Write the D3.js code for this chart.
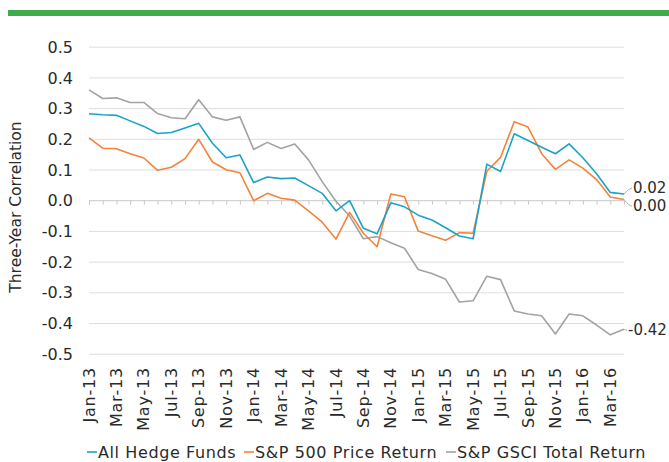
<!DOCTYPE html>
<html>
<head>
<meta charset="utf-8">
<script src="https://cdn.jsdelivr.net/npm/d3@7"></script>
<style>
  body { margin: 0; background: #fff; }
  svg text { font-family: "DejaVu Sans", "Noto Sans", sans-serif; fill: #2a2a2a; }
</style>
</head>
<body>
<svg id="chart_svg"></svg>
<script>
const months = [
  "Jan-13","Feb-13","Mar-13","Apr-13","May-13","Jun-13","Jul-13","Aug-13","Sep-13","Oct-13","Nov-13","Dec-13",
  "Jan-14","Feb-14","Mar-14","Apr-14","May-14","Jun-14","Jul-14","Aug-14","Sep-14","Oct-14","Nov-14","Dec-14",
  "Jan-15","Feb-15","Mar-15","Apr-15","May-15","Jun-15","Jul-15","Aug-15","Sep-15","Oct-15","Nov-15","Dec-15",
  "Jan-16","Feb-16","Mar-16","Apr-16"
];
const hedgeFunds = [
  0.283, 0.280, 0.278, 0.260, 0.242, 0.219, 0.222, 0.237, 0.252, 0.187, 0.140, 0.149,
  0.059, 0.077, 0.072, 0.074, 0.049, 0.024, -0.033, 0.000, -0.090, -0.108, -0.007, -0.020,
  -0.047, -0.063, -0.088, -0.115, -0.124, 0.119, 0.095, 0.218, 0.196, 0.174, 0.153, 0.185,
  0.140, 0.088, 0.027, 0.022
];
const sp500 = [
  0.205, 0.171, 0.169, 0.153, 0.139, 0.099, 0.109, 0.137, 0.200, 0.126, 0.101, 0.091,
  0.000, 0.024, 0.008, 0.002, -0.033, -0.070, -0.125, -0.038, -0.106, -0.150, 0.022, 0.013,
  -0.099, -0.114, -0.129, -0.104, -0.106, 0.096, 0.141, 0.257, 0.240, 0.153, 0.102, 0.133,
  0.106, 0.069, 0.012, 0.004
];
const gsci = [
  0.361, 0.333, 0.335, 0.320, 0.320, 0.284, 0.270, 0.267, 0.329, 0.273, 0.262, 0.273,
  0.167, 0.190, 0.170, 0.185, 0.133, 0.062, -0.002, -0.050, -0.124, -0.117, -0.137, -0.155,
  -0.224, -0.237, -0.256, -0.330, -0.326, -0.246, -0.257, -0.359, -0.369, -0.375, -0.434, -0.369,
  -0.375, -0.405, -0.437, -0.419
];
const yTicks = [-0.5, -0.4, -0.3, -0.2, -0.1, 0.0, 0.1, 0.2, 0.3, 0.4, 0.5];
const seriesNames = ["All Hedge Funds", "S&P 500 Price Return", "S&P GSCI Total Return"];
const seriesColors = ["#1ba3c6", "#f5823d", "#a3a3a3"];
const endLabels = ["0.02", "0.00", "-0.42"];

const width = 669;
const height = 462;
const svg = d3.select("#chart_svg").attr("width", width).attr("height", height);

// green band at the top
svg.append("rect")
  .attr("x", 8).attr("y", 10).attr("width", width - 8).attr("height", 6)
  .attr("fill", "#3fab4a");

const x = d3.scalePoint().domain(months).range([89, 624]);
const y = d3.scaleLinear().domain([-0.5, 0.5]).range([354.2, 47.2]);

// gridlines
svg.append("g")
  .selectAll("line")
  .data(yTicks.filter((d) => d !== 0))
  .enter()
  .append("line")
  .attr("x1", 89).attr("x2", 624)
  .attr("y1", (d) => y(d)).attr("y2", (d) => y(d))
  .attr("stroke", "#dedede").attr("stroke-width", 1);

// y axis labels
svg.append("g")
  .selectAll("text")
  .data(yTicks)
  .enter()
  .append("text")
  .attr("x", 73)
  .attr("y", (d) => y(d))
  .attr("dy", "0.35em")
  .attr("text-anchor", "end")
  .style("font-size", "16px")
  .text((d) => d3.format(".1f")(d).replace("−", "-"));

// x axis at zero
const xAxis = d3.axisBottom(x).tickSize(4).tickFormat("");
const gx = svg.append("g").attr("transform", `translate(0,${y(0)})`).call(xAxis);
gx.select(".domain").attr("stroke", "#c8c8c8").attr("d", "M89,0H624");
gx.selectAll(".tick line").attr("stroke", "#c8c8c8");

// rotated month labels (every other month)
svg.append("g")
  .selectAll("text")
  .data(months.filter((d, i) => i % 2 === 0))
  .enter()
  .append("text")
  .attr("transform", (d) => `translate(${x(d)},367) rotate(-90)`)
  .attr("dy", "0.35em")
  .attr("text-anchor", "end")
  .style("font-size", "16px")
  .style("letter-spacing", "0.8px")
  .text((d) => d);

// y axis title
svg.append("text")
  .attr("transform", "translate(16,207) rotate(-90)")
  .attr("dy", "0.35em")
  .attr("text-anchor", "middle")
  .style("font-size", "15.5px")
  .text("Three-Year Correlation");

// lines
const line = d3.line().x((d, i) => x(months[i])).y((d) => y(d));
[gsci, sp500, hedgeFunds].forEach((vals, k) => {
  svg.append("path")
    .datum(vals)
    .attr("fill", "none")
    .attr("stroke", seriesColors[2 - k])
    .attr("stroke-width", 1.6)
    .attr("stroke-linejoin", "round")
    .attr("d", line);
});

// end labels with little leader curves
const lastIdx = months.length - 1;
const endData = [
  { v: hedgeFunds[lastIdx], ly: 188, lx: 633, text: endLabels[0] },
  { v: sp500[lastIdx], ly: 206, lx: 633, text: endLabels[1] },
  { v: gsci[lastIdx], ly: 330, lx: 628, text: endLabels[2] },
];
endData.forEach((d) => {
  const x0 = x(months[lastIdx]);
  const y0 = y(d.v);
  svg.append("path")
    .attr("d", `M${x0},${y0} Q${d.lx - 4},${d.ly} ${d.lx - 1},${d.ly}`)
    .attr("fill", "none")
    .attr("stroke", "#b0b0b0")
    .attr("stroke-width", 1);
  svg.append("text")
    .attr("x", d.lx)
    .attr("y", d.ly)
    .attr("dy", "0.35em")
    .style("font-size", "15px")
    .text(d.text);
});

// legend
const legendX = [87, 244, 446];
const legend = svg.append("g")
  .selectAll("g")
  .data(seriesNames)
  .enter()
  .append("g")
  .attr("transform", (d, i) => `translate(${legendX[i]},452)`);
legend.append("line")
  .attr("x1", 0).attr("x2", 10)
  .attr("stroke", (d, i) => seriesColors[i])
  .attr("stroke-width", 1.6);
legend.append("text")
  .attr("x", 11)
  .attr("dy", "0.35em")
  .style("font-size", "16px")
  .style("letter-spacing", "0.6px")
  .text((d) => d);
</script>
</body>
</html>
